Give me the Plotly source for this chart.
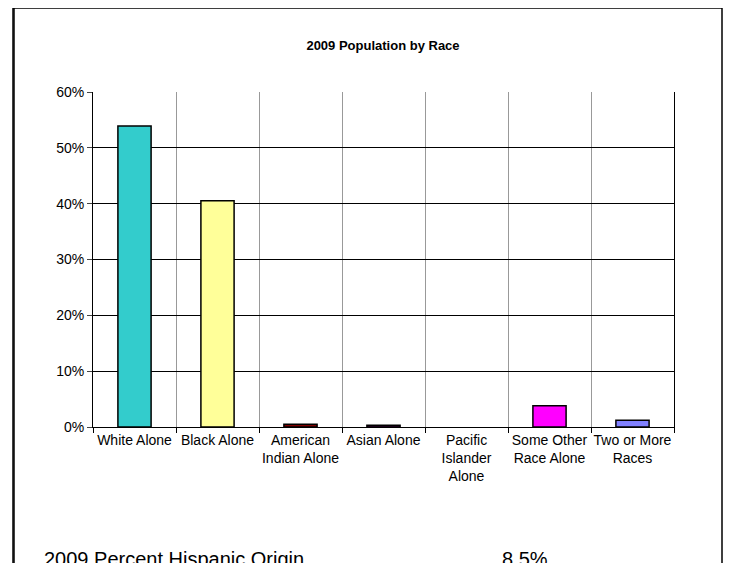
import plotly.graph_objs as go

categories = ["White Alone", "Black Alone", "American<br>Indian Alone", "Asian Alone",
              "Pacific<br>Islander<br>Alone", "Some Other<br>Race Alone", "Two or More<br>Races"]
values = [0.539, 0.405, 0.005, 0.003, 0.0, 0.038, 0.012]
colors = ["#33CCCC", "#FFFF99", "#800000", "#660066", "#FF8080", "#FF00FF", "#8080FF"]
hispanic_label = "2009 Percent Hispanic Origin"
hispanic_value = "8.5%"

font = "Liberation Sans Narrow, Arial Narrow, Liberation Sans, Arial"
xs = list(range(len(categories)))
line_w = [0 if v == 0 else 1.5 for v in values]

fig = go.Figure()
fig.add_trace(go.Bar(x=xs, y=values, marker_color=colors,
                     marker_line=dict(color="black", width=line_w), width=0.4))

# page seems to render with an 8px offset, so margins are reduced by 8
fig.update_layout(
    width=731, height=563, plot_bgcolor="white", paper_bgcolor="white",
    margin=dict(l=85, r=65, t=84, b=144, autoexpand=False), showlegend=False,
    font=dict(family=font, size=14, color="black"),
    title=dict(text="<b>2009 Population by Race</b>", x=(383 - 8) / 731, xanchor="center",
               y=1 - (45 - 8) / 563, yanchor="middle", font=dict(size=13)),
)
fig.update_xaxes(range=[-0.5, len(categories) - 0.5], tickvals=xs, ticktext=categories,
                 showgrid=False, ticks="", showline=True, linecolor="black",
                 minor=dict(tick0=0.5, dtick=1, showgrid=True, gridcolor="#999999",
                            ticks="outside", ticklen=5, tickcolor="black"))
fig.update_yaxes(range=[0, 0.6], dtick=0.1, tickformat=".0%", showgrid=True,
                 gridcolor="black", gridwidth=1, ticks="outside", ticklen=5,
                 showline=True, linecolor="black", mirror=True, zeroline=False)

# frame lines
fig.add_shape(type="line", xref="paper", yref="paper", x0=(6 - 85) / 581, x1=(6 - 85) / 581,
              y0=-1, y1=2, line=dict(color="black", width=1.5))
fig.add_shape(type="rect", xref="paper", yref="paper",
              x0=(13 - 93) / 581, x1=(722 - 93) / 581,
              y0=(427 - 600) / 335, y1=(427 - 8) / 335,
              line=dict(color="black", width=1.5))

fig.add_annotation(text=hispanic_label, xref="paper", yref="paper", showarrow=False,
                   x=(42 - 93) / 581, xanchor="left", y=(427 - 559) / 335, yanchor="middle",
                   font=dict(family="Liberation Sans, Arial", size=20))
fig.add_annotation(text=hispanic_value, xref="paper", yref="paper", showarrow=False,
                   x=(500 - 93) / 581, xanchor="left", y=(427 - 559) / 335, yanchor="middle",
                   font=dict(family="Liberation Sans, Arial", size=20))

fig.write_html("out.html")
